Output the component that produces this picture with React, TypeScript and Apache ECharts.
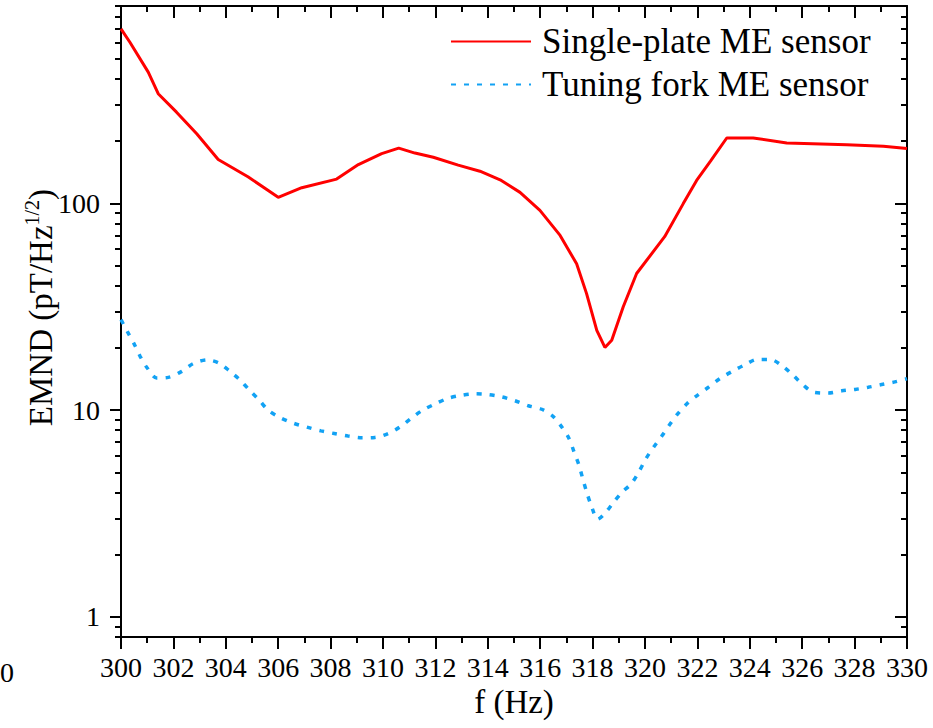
import React, { useEffect, useRef } from 'react';
import * as echarts from 'echarts';

// ---- data ----
const seriesNames = ['Single-plate ME sensor', 'Tuning fork ME sensor'];

const redFreq = [300, 300.34, 301.04, 301.42, 302.12, 302.89, 303.71, 304.86, 306.0, 306.9, 308.23, 309.06, 309.95, 310.6, 311.22, 311.92, 312.87, 313.7, 314.47, 315.23, 315.99, 316.76, 317.39, 317.77, 318.16, 318.47, 318.73, 319.17, 319.68, 320.75, 321.46, 321.97, 322.5, 323.12, 324.13, 325.41, 327.7, 329.1, 330];
const redEmnd = [698, 601, 431, 339, 276, 217, 163, 134, 107, 119, 131, 154, 174, 185, 175, 167, 153, 143, 130, 113, 92.5, 70, 51, 36.6, 24.3, 20.1, 21.8, 31.6, 45.8, 69, 99.7, 129, 160, 207, 207, 196, 192, 189, 184];

const blueFreq = [300, 300.25, 300.51, 300.73, 301.0, 301.36, 301.81, 302.32, 302.76, 303.29, 303.74, 304.16, 304.54, 304.9, 305.27, 305.62, 306.09, 306.61, 307.13, 307.63, 308.14, 308.68, 309.19, 309.69, 310.2, 310.65, 311.07, 311.5, 311.98, 312.47, 313.0, 313.51, 314.02, 314.53, 315.04, 315.55, 316.06, 316.48, 316.82, 317.1, 317.29, 317.48, 317.62, 317.77, 317.93, 318.2, 318.47, 318.79, 319.11, 319.49, 319.78, 320.04, 320.34, 320.64, 320.93, 321.23, 321.59, 322.0, 322.42, 322.86, 323.33, 323.82, 324.29, 324.77, 325.26, 325.64, 326.02, 326.45, 327.0, 327.51, 328.02, 328.52, 329.03, 329.54, 330];
const blueEmnd = [27.4, 23.9, 20.8, 18.2, 16.0, 14.3, 14.4, 15.4, 16.8, 17.5, 16.9, 15.4, 14.0, 12.5, 11.2, 10.0, 9.18, 8.62, 8.25, 7.94, 7.71, 7.49, 7.35, 7.38, 7.71, 8.3, 9.12, 9.97, 10.7, 11.4, 11.8, 12.0, 11.9, 11.6, 11.1, 10.5, 10.1, 9.36, 8.3, 7.3, 6.29, 5.42, 4.68, 4.03, 3.51, 2.97, 3.17, 3.57, 3.99, 4.43, 5.07, 5.84, 6.65, 7.49, 8.47, 9.53, 10.7, 11.8, 12.9, 14.2, 15.4, 16.6, 17.6, 17.6, 16.3, 14.8, 13.3, 12.2, 12.1, 12.4, 12.6, 12.9, 13.3, 13.7, 14.2];

const yMajorTicks = [1, 10, 100];
const yMinorTicks = [0.8, 0.9, 2, 3, 4, 5, 6, 7, 8, 9, 20, 30, 40, 50, 60, 70, 80, 90, 200, 300, 400, 500, 600, 700, 800, 900];

const FONT = 'Liberation Serif';

export default function App() {
  const ref = useRef<HTMLDivElement>(null);
  useEffect(() => {
    const chart = echarts.init(ref.current!, null, { renderer: 'svg' });
    const line = { show: true, onZero: false, lineStyle: { color: '#000', width: 2 } };
    const tickLine = { color: '#000', width: 2 };
    const xBase = { type: 'value', min: 300, max: 330, interval: 2, splitLine: { show: false } };
    const yBase = { type: 'log', logBase: 10, min: 0.8, max: 900, splitLine: { show: false } };
    const option: any = {
      animation: false,
      textStyle: { fontFamily: FONT },
      grid: { left: 121, right: 26, top: 6, bottom: 91, containLabel: false, outerBoundsMode: 'none' },
      legend: {
        data: seriesNames,
        orient: 'vertical',
        left: 450,
        top: 24,
        padding: 0,
        itemWidth: 80,
        itemHeight: 14,
        itemGap: 8,
        itemStyle: { opacity: 0 },
        textStyle: { fontSize: 35, fontFamily: FONT, color: '#000', padding: [0, 0, 0, 6] },
      },
      xAxis: [
        {
          ...xBase,
          position: 'bottom',
          axisLine: line,
          axisTick: { show: true, length: 12, lineStyle: tickLine },
          minorTick: { show: true, splitNumber: 2, length: 6, lineStyle: tickLine },
          axisLabel: { fontSize: 28, fontFamily: FONT, color: '#000', margin: 16 },
          name: 'f (Hz)',
          nameLocation: 'middle',
          nameGap: 48,
          nameMoveOverlap: false,
          nameTextStyle: { fontSize: 33, fontFamily: FONT, color: '#000' },
        },
        {
          ...xBase,
          position: 'top',
          axisLine: line,
          axisTick: { show: true, inside: true, length: 12, lineStyle: tickLine },
          minorTick: { show: true, splitNumber: 2, length: 6, lineStyle: tickLine },
          axisLabel: { show: false },
        },
      ],
      yAxis: [
        {
          ...yBase,
          position: 'left',
          axisLine: line,
          axisTick: { show: true, length: 11, lineStyle: tickLine, customValues: yMajorTicks },
          axisLabel: { fontSize: 28, fontFamily: FONT, color: '#000', margin: 21, customValues: yMajorTicks },
          name: '{a|EMND (pT/Hz}{s|1/2}{a|)}',
          nameLocation: 'middle',
          nameRotate: 90,
          nameGap: 61,
          nameMoveOverlap: false,
          nameTextStyle: {
            fontFamily: FONT,
            padding: [0, 0, 0, 28],
            rich: {
              a: { fontSize: 33, fontFamily: FONT, color: '#000', lineHeight: 38 },
              s: { fontSize: 20, fontFamily: FONT, color: '#000', lineHeight: 38, verticalAlign: 'top', padding: [0, 0, 14, 0] },
            },
          },
        },
        {
          ...yBase,
          position: 'left',
          axisLine: { show: false },
          axisTick: { show: true, length: 6, lineStyle: tickLine, customValues: yMinorTicks },
          axisLabel: { show: false },
        },
        {
          ...yBase,
          position: 'right',
          axisLine: line,
          axisTick: { show: true, inside: true, length: 12, lineStyle: tickLine, customValues: yMajorTicks },
          axisLabel: { show: false },
        },
        {
          ...yBase,
          position: 'right',
          axisLine: { show: false },
          axisTick: { show: true, inside: true, length: 6, lineStyle: tickLine, customValues: yMinorTicks },
          axisLabel: { show: false },
        },
      ],
      graphic: [
        { type: 'text', left: 0, top: 658, style: { text: '0', fontSize: 28, fontFamily: FONT, fill: '#000' } },
      ],
      series: [
        {
          name: seriesNames[0],
          type: 'line',
          xAxisIndex: 0,
          yAxisIndex: 0,
          data: redFreq.map((f, i) => [f, redEmnd[i]]),
          symbol: 'none',
          showSymbol: false,
          color: '#ff0000',
          lineStyle: { color: '#ff0000', width: 3 },
        },
        {
          name: seriesNames[1],
          type: 'line',
          xAxisIndex: 0,
          yAxisIndex: 0,
          data: blueFreq.map((f, i) => [f, blueEmnd[i]]),
          symbol: 'none',
          showSymbol: false,
          smooth: 0.3,
          color: '#12a2f4',
          lineStyle: { color: '#12a2f4', width: 3.5, type: [5, 8] },
        },
      ],
    };
    chart.setOption(option);
    return () => chart.dispose();
  }, []);
  return <div ref={ref} style={{ position: 'absolute', left: 0, top: 0, width: 933, height: 728 }} />;
}
